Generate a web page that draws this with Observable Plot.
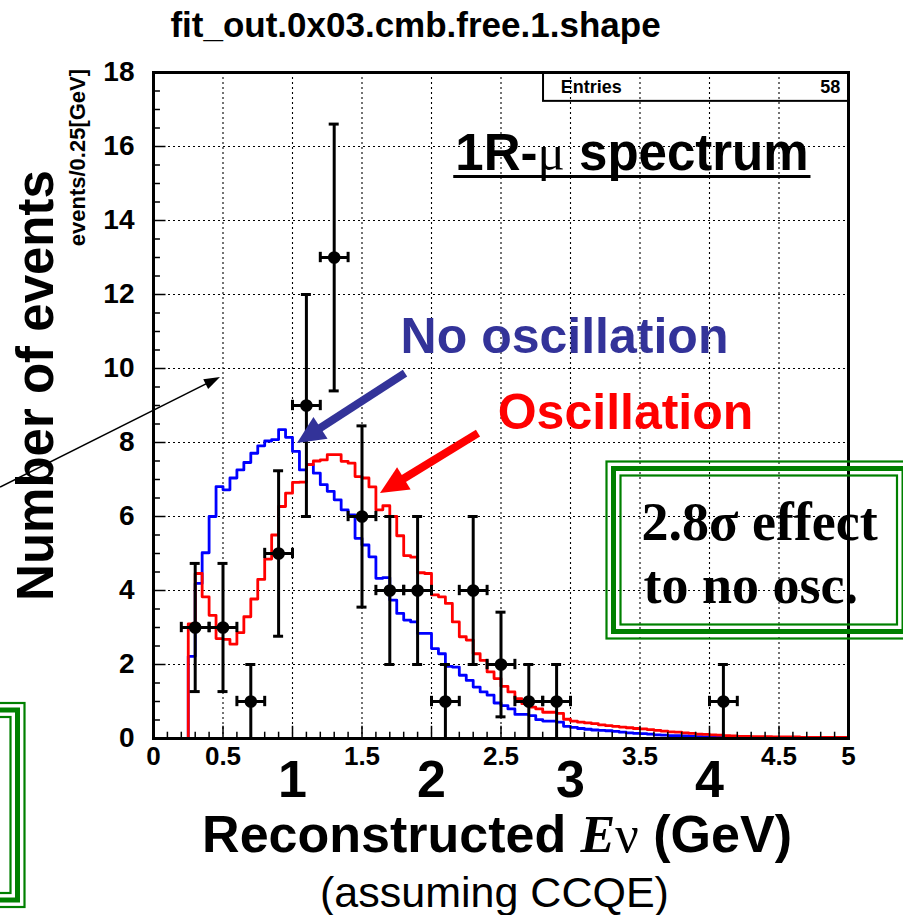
<!DOCTYPE html>
<html>
<head>
<meta charset="utf-8">
<script src="https://cdn.jsdelivr.net/npm/d3@7"></script>
<script src="https://cdn.jsdelivr.net/npm/@observablehq/plot@0.6"></script>
<style>
  html, body { margin: 0; padding: 0; background: #fff; }
  svg { display: block; }
</style>
</head>
<body>
<div id="chart"></div>
<script>
// ---- Expected spectra, 0.05 GeV bins from 0 to 5 GeV (events per bin) ----
const binWidth = 0.05;
const noOscillation = [
  0, 0, 0, 0, 0, 2.22, 4.19, 5.02, 6.00, 6.81,
  6.72, 7.04, 7.26, 7.46, 7.71, 7.91, 8.04, 8.08, 8.35, 8.14,
  7.76, 7.26, 7.40, 7.17, 6.86, 6.68, 6.45, 6.18, 6.04, 5.41,
  5.23, 4.91, 4.33, 4.35, 3.74, 3.38, 3.20, 3.15, 2.84, 2.84,
  2.43, 2.29, 1.95, 1.93, 1.71, 1.57, 1.39, 1.26, 1.17, 0.96,
  0.89, 0.80, 0.65, 0.65, 0.62, 0.51, 0.47, 0.47, 0.44, 0.33,
  0.30, 0.27, 0.25, 0.23, 0.22, 0.21, 0.19, 0.17, 0.15, 0.14,
  0.13, 0.12, 0.10, 0.09, 0.08, 0.08, 0.07, 0.06, 0.05, 0.04,
  0.04, 0.03, 0.02, 0.02, 0.01, 0.01, 0, 0, 0, 0,
  0, 0, 0, 0, 0, 0, 0, 0, 0, 0
];
const oscillation = [
  0, 0, 0, 0, 0, 3.10, 4.46, 3.83, 3.33, 2.70,
  2.68, 2.55, 2.86, 3.29, 3.77, 4.30, 4.85, 5.50, 6.27, 6.63,
  6.92, 6.93, 7.40, 7.50, 7.53, 7.67, 7.67, 7.49, 7.44, 7.08,
  7.04, 6.80, 6.18, 6.29, 6.00, 5.48, 4.94, 4.90, 4.48, 4.46,
  3.88, 3.83, 3.65, 3.15, 2.75, 2.66, 2.29, 2.11, 1.80, 1.62,
  1.41, 1.26, 1.08, 0.94, 0.85, 0.80, 0.71, 0.71, 0.68, 0.52,
  0.47, 0.44, 0.42, 0.40, 0.37, 0.35, 0.33, 0.31, 0.29, 0.27,
  0.26, 0.24, 0.22, 0.20, 0.18, 0.17, 0.15, 0.14, 0.12, 0.11,
  0.10, 0.09, 0.08, 0.07, 0.06, 0.06, 0.05, 0.05, 0.05, 0.04,
  0.04, 0.04, 0.04, 0.03, 0.03, 0.03, 0.03, 0.03, 0.03, 0.03
];

// ---- Observed events, 0.2 GeV bins (bin centres and counts) ----
const dataEnergy = [0.3, 0.5, 0.7, 0.9, 1.1, 1.3, 1.5, 1.7, 1.9, 2.1, 2.3, 2.5, 2.7, 2.9, 4.1];
const dataCounts = [3, 3, 1, 5, 9, 13, 6, 4, 4, 1, 4, 2, 1, 1, 1];
const dataHalfBin = 0.1;

// ---- Axis ticks ----
const xTickLabels = [0, 0.5, 1.5, 2.5, 3.5, 4.5, 5];
const xBigLabels = [1, 2, 3, 4];
const yTickLabels = [0, 2, 4, 6, 8, 10, 12, 14, 16, 18];
const xGrid = [0.5, 1, 1.5, 2, 2.5, 3, 3.5, 4, 4.5];
const yGrid = [2, 4, 6, 8, 10, 12, 14, 16];

const sans = "'Liberation Sans', Arial, Helvetica, sans-serif";
const serif = "'Liberation Serif', 'Times New Roman', serif";
const plain = d => String(d);

// step outline of a histogram: one point per lower bin edge plus the closing edge
function outline(values) {
  const pts = values.map((v, i) => ({e: i * binWidth, v}));
  pts.push({e: values.length * binWidth, v: values[values.length - 1]});
  return pts;
}

const points = dataEnergy.map((e, i) => ({e, n: dataCounts[i], err: Math.sqrt(dataCounts[i])}));

// inner tick marks (ROOT style)
const bottomTicks = d3.range(1, 50).map(i => ({x: i / 10, major: i % 5 === 0}));
const leftTicks = d3.range(1, 36).map(i => ({y: i / 2, major: i % 4 === 0}));

// arrows pointing at the curves
const pointers = [
  {x1: 1.813, y1: 9.86, x2: 1.036, y2: 7.97, color: "#333399", width: 8, head: 28, half: 13},
  {x1: 2.338, y1: 8.24, x2: 1.633, y2: 6.62, color: "#ff0000", width: 8, head: 28, half: 13},
  {x1: -1.10, y1: 6.78, x2: 0.482, y2: 9.76, color: "#000000", width: 1.6, head: 16, half: 5.5}
];

function drawPointers(index, {x, y}) {
  const g = d3.create("svg:g");
  for (const p of pointers) {
    const ax = x(p.x1), ay = y(p.y1), bx = x(p.x2), by = y(p.y2);
    const len = Math.hypot(bx - ax, by - ay), ux = (bx - ax) / len, uy = (by - ay) / len;
    const cx = bx - ux * p.head, cy = by - uy * p.head;
    g.append("line")
      .attr("x1", ax).attr("y1", ay).attr("x2", cx + ux * 2).attr("y2", cy + uy * 2)
      .attr("stroke", p.color).attr("stroke-width", p.width);
    g.append("polygon")
      .attr("points", [[bx, by], [cx - uy * p.half, cy + ux * p.half], [cx + uy * p.half, cy - ux * p.half]]
        .map(q => q.join(",")).join(" "))
      .attr("fill", p.color);
  }
  return g.node();
}

// triple green borders
const greenBoxes = [
  {left: 606.5, top: 461.5, right: 911, bottom: 638.5},
  {left: -400, top: 703, right: 24.5, bottom: 907}
];
function drawGreenBoxes() {
  const g = d3.create("svg:g").attr("fill", "none").attr("stroke", "#008000");
  for (const b of greenBoxes) {
    for (const [off, w] of [[0, 2.2], [7, 5], [14, 2.2]]) {
      g.append("rect")
        .attr("x", b.left + off).attr("y", b.top + off)
        .attr("width", b.right - b.left - 2 * off).attr("height", b.bottom - b.top - 2 * off)
        .attr("stroke-width", w);
    }
  }
  return g.node();
}

// rich labels with mixed fonts
function drawRichLabels(index, {x, y}) {
  const g = d3.create("svg:g").attr("fill", "black");
  const t1 = g.append("text").attr("x", x(3.446)).attr("y", y(15.35))
    .attr("text-anchor", "middle").attr("font-size", 51).attr("font-weight", "bold").attr("font-family", sans);
  t1.append("tspan").text("1R-");
  t1.append("tspan").attr("font-family", serif).attr("font-weight", "normal").text("μ");
  t1.append("tspan").text(" spectrum");

  const t2 = g.append("text").attr("x", x(2.475)).attr("y", y(-3.08))
    .attr("text-anchor", "middle").attr("font-size", 52).attr("font-weight", "bold").attr("font-family", sans);
  t2.append("tspan").text("Reconstructed ");
  t2.append("tspan").attr("font-family", serif).attr("font-style", "italic").text("E");
  t2.append("tspan").attr("font-family", serif).attr("font-weight", "normal").text("ν");
  t2.append("tspan").text(" (GeV)");
  return g.node();
}

const chart = Plot.plot({
  width: 903,
  height: 915,
  marginLeft: 153,
  marginRight: 55,
  marginTop: 72,
  marginBottom: 177,
  x: {domain: [0, 5], label: null},
  y: {domain: [0, 18], label: null},
  style: {background: "white", overflow: "visible"},
  marks: [
    // dotted grid
    Plot.ruleX(xGrid, {stroke: "black", strokeWidth: 1.1, strokeDasharray: "2,3"}),
    Plot.ruleY(yGrid, {stroke: "black", strokeWidth: 1.1, strokeDasharray: "2,3"}),

    // expected spectra
    Plot.line(outline(noOscillation), {x: "e", y: "v", curve: "step-after", stroke: "#0000ff", strokeWidth: 2.8}),
    Plot.line(outline(oscillation), {x: "e", y: "v", curve: "step-after", stroke: "#ff0000", strokeWidth: 2.8}),

    // observed events with error bars
    Plot.ruleX(points, {x: "e", y1: d => d.n - d.err, y2: d => d.n + d.err, stroke: "black", strokeWidth: 3}),
    Plot.ruleY(points, {y: "n", x1: d => d.e - dataHalfBin, x2: d => d.e + dataHalfBin, stroke: "black", strokeWidth: 3}),
    Plot.ruleY(points, {y: d => d.n + d.err, x1: d => d.e - 0.036, x2: d => d.e + 0.036, stroke: "black", strokeWidth: 3}),
    Plot.ruleY(points, {y: d => d.n - d.err, x1: d => d.e - 0.036, x2: d => d.e + 0.036, stroke: "black", strokeWidth: 3}),
    Plot.ruleX(points, {x: d => d.e - dataHalfBin, y1: d => d.n - 0.14, y2: d => d.n + 0.14, stroke: "black", strokeWidth: 3}),
    Plot.ruleX(points, {x: d => d.e + dataHalfBin, y1: d => d.n - 0.14, y2: d => d.n + 0.14, stroke: "black", strokeWidth: 3}),
    Plot.dot(points, {x: "e", y: "n", r: 6.3, fill: "black"}),

    // inner tick marks
    Plot.ruleX(bottomTicks, {x: "x", y1: 0, y2: d => d.major ? 0.33 : 0.17, stroke: "black", strokeWidth: 1.5}),
    Plot.ruleY(leftTicks, {y: "y", x1: 0, x2: d => d.major ? 0.09 : 0.05, stroke: "black", strokeWidth: 1.5}),

    // frame and statistics box
    Plot.frame({stroke: "black", strokeWidth: 3}),
    Plot.rect([0], {x1: 2.806, x2: 5, y1: 17.22, y2: 18, fill: "none", stroke: "black", strokeWidth: 2}),
    Plot.text(["Entries"], {x: 2.93, y: 17.6, textAnchor: "start", fontSize: 18, fontWeight: "bold", fontFamily: sans}),
    Plot.text(["58"], {x: 4.94, y: 17.6, textAnchor: "end", fontSize: 18, fontWeight: "bold", fontFamily: sans}),

    // axes
    Plot.axisY({ticks: yTickLabels, tickSize: 0, tickPadding: 19, fontSize: 28, fontWeight: "bold", fontFamily: sans, label: null}),
    Plot.axisX({ticks: xTickLabels, tickFormat: plain, tickSize: 0, tickPadding: 8, fontSize: 26, fontWeight: "bold", fontFamily: sans, label: null}),
    Plot.axisX({ticks: xBigLabels, tickFormat: plain, tickSize: 0, tickPadding: 22, fontSize: 52, fontWeight: "bold", fontFamily: sans, label: null}),

    // titles
    Plot.text(["fit_out.0x03.cmb.free.1.shape"], {x: 1.885, y: 19.27, fontSize: 35, fontWeight: "bold", fontFamily: sans}),
    Plot.text(["Number of events"], {x: -0.842, y: 9.54, rotate: -90, fontSize: 51, fontWeight: "bold", fontFamily: sans}),
    Plot.text(["events/0.25[GeV]"], {x: -0.54, y: 15.7, rotate: -90, fontSize: 22, fontWeight: "bold", fontFamily: sans}),
    Plot.text(["(assuming CCQE)"], {x: 2.453, y: -4.17, fontSize: 43, fontFamily: sans}),

    // annotations
    Plot.ruleY([15.19], {x1: 2.16, x2: 4.73, stroke: "black", strokeWidth: 3}),
    Plot.text(["No oscillation"], {x: 2.957, y: 10.84, fontSize: 50, fontWeight: "bold", fontFamily: sans, fill: "#333399"}),
    Plot.text(["Oscillation"], {x: 3.396, y: 8.81, fontSize: 50, fontWeight: "bold", fontFamily: sans, fill: "#ff0000"}),
    Plot.text(["2.8σ effect"], {x: 3.511, y: 5.84, textAnchor: "start", fontSize: 54, fontWeight: "bold", fontFamily: serif}),
    Plot.text(["to no osc."], {x: 3.525, y: 4.135, textAnchor: "start", fontSize: 54, fontWeight: "bold", fontFamily: serif}),
    drawRichLabels,
    drawPointers,
    drawGreenBoxes
  ]
});

document.getElementById("chart").appendChild(chart);
</script>
</body>
</html>
